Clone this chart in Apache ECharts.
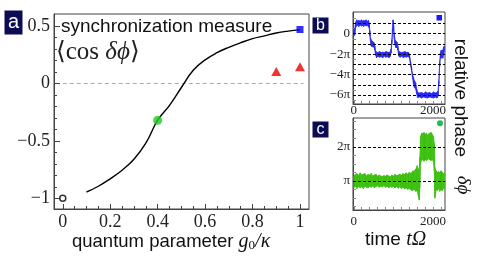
<!DOCTYPE html>
<html><head><meta charset="utf-8">
<script src="https://cdn.jsdelivr.net/npm/echarts@6/dist/echarts.min.js"></script>
<style>html,body{margin:0;padding:0;background:#fff}#chart{width:482px;height:260px}</style>
</head><body><div id="chart"></div>
<script>
// ---------- Panel a : synchronization measure vs quantum parameter ----------
const gValues    = [0.10, 0.15, 0.20, 0.25, 0.30, 0.35, 0.40, 0.45, 0.50, 0.55, 0.60, 0.65, 0.70, 0.75, 0.80, 0.85, 0.90, 0.95, 1.00];
const syncValues = [-0.945, -0.895, -0.83, -0.755, -0.66, -0.52, -0.32, -0.19, -0.035, 0.115, 0.205, 0.268, 0.315, 0.355, 0.39, 0.415, 0.44, 0.456, 0.467];
const classicalX = [0];      const classicalY = [-1];
const greenX = [0.4];        const greenY = [-0.32];
const triangleX = [0.9, 1.0]; const triangleY = [0.105, 0.145];
const squareX = [1.0];       const squareY = [0.47];
const zeroLineX = [0, 1.015]; const zeroLineY = [0, 0];
const aXLabels = [0, 0.2, 0.4, 0.6, 0.8, 1];
const aXMinor = [0.05,0.1,0.15,0.25,0.3,0.35,0.45,0.5,0.55,0.65,0.7,0.75,0.85,0.9,0.95];
const aYLabels = [0.5, 0, -0.5, -1];
const aYMinor = [0.4,0.3,0.2,0.1,-0.1,-0.2,-0.3,-0.4,-0.6,-0.7,-0.8,-0.9];

// ---------- Panel b : relative phase (units of pi), blue trajectory ----------
const timeB = [0,25,45,70,100,130,160,190,220,250,280,310,340,370,390,405,420,440,465,490,510,530,550,575,610,650,690,730,770,810,850,890,920,940,960,975,990,1005,1020,1040,1065,1090,1110,1135,1170,1210,1250,1290,1330,1370,1405,1430,1455,1480,1505,1530,1560,1585,1610,1660,1710,1760,1810,1860,1910,1960,2010,2060,2100,2125,2145,2165,2185,2205,2225,2245,2265,2285];
const lowB  = [-0.25,-0.1,0.6,0.75,0.8,0.7,0.85,0.75,0.8,0.7,0.85,0.75,0.8,0.7,0.55,-0.2,-0.7,-1.2,-1.3,-1.25,-1.35,-1.6,-2.1,-2.35,-2.2,-2.3,-2.25,-2.35,-2.2,-2.3,-2.25,-2.35,-2.2,-1.9,-1.0,0.0,0.9,0.3,-0.5,-1.1,-1.4,-1.3,-1.6,-2.2,-2.3,-2.2,-2.35,-2.25,-2.3,-2.2,-2.4,-3.1,-3.6,-4.3,-4.9,-5.3,-5.4,-5.9,-6.25,-6.2,-6.3,-6.2,-6.25,-6.3,-6.2,-6.25,-6.3,-6.2,-6.3,-6.1,-5.0,-3.2,-2.3,-2.4,-2.3,-2.4,-2.0,-1.6];
const highB = [0.15,0.5,1.1,1.35,1.25,1.3,1.2,1.35,1.25,1.3,1.25,1.35,1.2,1.3,1.0,0.3,-0.4,-0.6,-0.75,-0.8,-0.9,-1.2,-1.7,-1.8,-1.85,-1.75,-1.85,-1.8,-1.85,-1.75,-1.8,-1.85,-1.75,-1.5,-0.6,0.5,1.35,0.8,-0.1,-0.6,-0.75,-0.85,-1.2,-1.75,-1.8,-1.85,-1.8,-1.75,-1.85,-1.8,-2.0,-2.7,-3.2,-3.9,-4.3,-4.6,-4.8,-5.4,-5.75,-5.8,-5.75,-5.85,-5.7,-5.8,-5.75,-5.85,-5.7,-5.8,-5.75,-5.6,-4.6,-2.8,-1.9,-1.6,-1.7,-1.6,-1.3,-1.2];
const levelsB = [1, 0, -1, -2, -3, -4, -5, -6];
const bYLabels = [0, -2, -4, -6];
const bYTicks = [1.5,1,0.5,0,-0.5,-1,-1.5,-2,-2.5,-3,-3.5,-4,-4.5,-5,-5.5,-6,-6.5];

// ---------- Panel c : relative phase (units of pi), green trajectory ----------
const timeC = [0,40,80,120,160,200,240,280,320,360,400,440,480,520,560,600,640,680,720,760,800,840,880,920,960,1000,1040,1080,1120,1160,1200,1240,1280,1320,1360,1400,1440,1480,1520,1560,1600,1630,1650,1665,1685,1710,1740,1770,1800,1830,1860,1890,1920,1950,1980,2010,2030,2045,2060,2080,2110,2140,2170,2200,2230,2260,2290];
const lowC  = [0.8,0.85,0.78,0.84,0.8,0.83,0.78,0.84,0.82,0.8,0.85,0.82,0.86,0.8,0.84,0.86,0.82,0.85,0.83,0.86,0.82,0.85,0.8,0.84,0.82,0.85,0.8,0.84,0.79,0.83,0.78,0.82,0.77,0.8,0.76,0.78,0.74,0.72,0.76,0.7,0.72,0.55,0.45,0.8,1.55,1.6,1.62,1.58,1.63,1.6,1.62,1.65,1.62,1.6,1.63,1.55,1.3,0.5,0.6,0.75,0.72,0.78,0.7,0.76,0.72,0.78,0.75];
const highC = [1.15,1.2,1.22,1.16,1.24,1.18,1.2,1.22,1.15,1.2,1.17,1.22,1.15,1.18,1.2,1.14,1.18,1.15,1.13,1.16,1.14,1.18,1.15,1.13,1.17,1.14,1.2,1.16,1.18,1.2,1.17,1.22,1.19,1.24,1.2,1.26,1.22,1.28,1.3,1.34,1.45,1.35,1.2,1.7,2.3,2.4,2.38,2.42,2.36,2.4,2.34,2.38,2.4,2.42,2.36,2.3,2.1,1.4,1.3,1.3,1.25,1.28,1.24,1.3,1.26,1.22,1.25];
const levelsC = [2, 1];
const cYLabels = [2, 1];
const cYTicks = [0.25,0.5,0.75,1,1.25,1.5,1.75,2,2.25,2.5,2.75];
const timeLabels = [0, 2000];
const timeTicks = [0,200,400,600,800,1000,1200,1400,1600,1800,2000,2200];

const SERIF = "'Liberation Serif','DejaVu Serif',serif";
const SANS = "'Liberation Sans',Arial,sans-serif";
const FRAME = '#444';

function piLabel(v) {
  if (v === 0) return '0';
  const s = v < 0 ? '\u2212' : '';
  const a = Math.abs(v);
  return s + (a === 1 ? '' : a) + 'π';
}
function numLabel(v) { return v < 0 ? '\u2212' + (-v) : String(v); }
function plainLabel(v) { return String(v); }

function bandRenderer(ts, lo, hi, color) {
  return function (params, api) {
    const i = params.dataIndex;
    if (i >= ts.length - 1) return null;
    const a = api.coord([ts[i], lo[i]]), b = api.coord([ts[i], hi[i]]);
    const c = api.coord([ts[i + 1], hi[i + 1]]), d = api.coord([ts[i + 1], lo[i + 1]]);
    return { type: 'polygon', shape: { points: [a, b, c, d] },
      style: { fill: color, stroke: color, lineWidth: 0.7 } };
  };
}

function valueAxis(extra) {
  return Object.assign({
    type: 'value', splitLine: { show: false },
    axisLine: { show: true, onZero: false, lineStyle: { color: FRAME, width: 1 } },
  }, extra);
}
const NOLINE = { show: false, onZero: false };

const chart = echarts.init(document.getElementById('chart'), null, { renderer: 'canvas' });
chart.setOption({
  animation: false,
  backgroundColor: '#fff',
  grid: [
    { left: 54, top: 14, width: 255, height: 195, show: true, borderColor: FRAME, borderWidth: 1 },
    { left: 353, top: 12, width: 92, height: 92, show: true, borderColor: FRAME, borderWidth: 1 },
    { left: 353, top: 118, width: 92, height: 92, show: true, borderColor: FRAME, borderWidth: 1 }
  ],
  xAxis: [
    valueAxis({ gridIndex: 0, position: 'bottom', min: -0.037, max: 1.038,
      axisTick: { inside: true, length: 5, customValues: aXLabels, lineStyle: { color: FRAME } },
      axisLabel: { customValues: aXLabels, formatter: numLabel, fontFamily: SERIF, fontSize: 18, color: '#222', margin: 4 } }),
    valueAxis({ gridIndex: 0, position: 'bottom', min: -0.037, max: 1.038, axisLine: NOLINE,
      axisTick: { inside: true, length: 3, customValues: aXMinor, lineStyle: { color: FRAME } },
      axisLabel: { show: false } }),
    valueAxis({ gridIndex: 1, position: 'bottom', min: -20, max: 2300,
      axisTick: { inside: true, length: 3, customValues: timeTicks, lineStyle: { color: '#888' } },
      axisLabel: { customValues: timeLabels, formatter: plainLabel, fontFamily: SERIF, fontSize: 13, color: '#222', margin: 0 } }),
    valueAxis({ gridIndex: 2, position: 'bottom', min: -20, max: 2300,
      axisTick: { inside: true, length: 3, customValues: timeTicks, lineStyle: { color: '#888' } },
      axisLabel: { customValues: timeLabels, formatter: plainLabel, fontFamily: SERIF, fontSize: 13, color: '#222', margin: 5 } })
  ],
  yAxis: [
    valueAxis({ gridIndex: 0, position: 'left', min: -1.093, max: 0.605,
      axisTick: { inside: true, length: 6, customValues: aYLabels, lineStyle: { color: FRAME } },
      axisLabel: { customValues: aYLabels, formatter: numLabel, fontFamily: SERIF, fontSize: 18, color: '#222', margin: 4 } }),
    valueAxis({ gridIndex: 0, position: 'left', min: -1.093, max: 0.605, axisLine: NOLINE,
      axisTick: { inside: true, length: 3, customValues: aYMinor, lineStyle: { color: FRAME } },
      axisLabel: { show: false } }),
    valueAxis({ gridIndex: 1, position: 'left', min: -6.88, max: 2.12,
      axisTick: { inside: true, length: 3, customValues: bYTicks, lineStyle: { color: '#888' } },
      axisLabel: { customValues: bYLabels, formatter: piLabel, fontFamily: SERIF, fontSize: 13, color: '#222', margin: 3 } }),
    valueAxis({ gridIndex: 2, position: 'left', min: 0.155, max: 2.84,
      axisTick: { inside: true, length: 3, customValues: cYTicks, lineStyle: { color: '#888' } },
      axisLabel: { customValues: cYLabels, formatter: piLabel, fontFamily: SERIF, fontSize: 13, color: '#222', margin: 3 } })
  ],
  series: [
    { type: 'line', xAxisIndex: 0, yAxisIndex: 0, data: zeroLineX.map((x, i) => [x, zeroLineY[i]]),
      symbol: 'none', lineStyle: { color: '#aaa', width: 1, type: [4, 3] }, z: 1 },
    { type: 'line', xAxisIndex: 0, yAxisIndex: 0, data: gValues.map((x, i) => [x, syncValues[i]]),
      smooth: 0.45, symbol: 'none', lineStyle: { color: '#000', width: 1.4 }, z: 2 },
    { type: 'scatter', xAxisIndex: 0, yAxisIndex: 0, data: classicalX.map((x, i) => [x, classicalY[i]]),
      symbol: 'circle', symbolSize: 6, itemStyle: { color: '#fff', borderColor: '#000', borderWidth: 1.5 }, z: 3 },
    { type: 'scatter', xAxisIndex: 0, yAxisIndex: 0, data: greenX.map((x, i) => [x, greenY[i]]),
      symbol: 'circle', symbolSize: 9, itemStyle: { color: '#1ecb1e' }, z: 3 },
    { type: 'scatter', xAxisIndex: 0, yAxisIndex: 0, data: triangleX.map((x, i) => [x, triangleY[i]]),
      symbol: 'triangle', symbolSize: [10, 9], itemStyle: { color: '#ee0000' }, z: 3 },
    { type: 'scatter', xAxisIndex: 0, yAxisIndex: 0, data: squareX.map((x, i) => [x, squareY[i]]),
      symbol: 'rect', symbolSize: 7, itemStyle: { color: '#0000ff' }, z: 3 },
    { type: 'custom', xAxisIndex: 2, yAxisIndex: 2, clip: true,
      data: timeB.map((t, i) => [t, lowB[i], highB[i]]), encode: { x: 0, y: [1, 2] },
      renderItem: bandRenderer(timeB, lowB, highB, '#2626f2'), z: 2,
      markLine: { silent: true, symbol: 'none', label: { show: false }, animation: false,
        lineStyle: { color: '#000', width: 1.2, type: [3, 2] }, data: levelsB.map(v => ({ yAxis: v })) } },
    { type: 'custom', xAxisIndex: 3, yAxisIndex: 3, clip: true,
      data: timeC.map((t, i) => [t, lowC[i], highC[i]]), encode: { x: 0, y: [1, 2] },
      renderItem: bandRenderer(timeC, lowC, highC, '#3cc010'), z: 2,
      markLine: { silent: true, symbol: 'none', label: { show: false }, animation: false,
        lineStyle: { color: '#000', width: 1.2, type: [3, 2] }, data: levelsC.map(v => ({ yAxis: v })) } }
  ],
  graphic: [
    { type: 'rect', shape: { x: 4.5, y: 10.5, width: 18, height: 24 }, style: { fill: '#0c0c55' } },
    { type: 'text', x: 13.5, y: 22, style: { text: 'a', fill: '#fff', font: '20px ' + SANS, textAlign: 'center', textVerticalAlign: 'middle' } },
    { type: 'rect', shape: { x: 312.5, y: 17.5, width: 16, height: 16 }, style: { fill: '#0c0c55' } },
    { type: 'text', x: 320.5, y: 25.5, style: { text: 'b', fill: '#fff', font: '16px ' + SANS, textAlign: 'center', textVerticalAlign: 'middle' } },
    { type: 'rect', shape: { x: 312.5, y: 121.5, width: 16, height: 16 }, style: { fill: '#0c0c55' } },
    { type: 'text', x: 320.5, y: 129.5, style: { text: 'c', fill: '#fff', font: '16px ' + SANS, textAlign: 'center', textVerticalAlign: 'middle' } },
    { type: 'text', x: 61, y: 27, style: { text: 'synchronization measure', fill: '#111', font: '19px ' + SANS, textVerticalAlign: 'middle' } },
    { type: 'text', x: 56, y: 52, style: { text: '{b|⟨}{t|cos }{i|δϕ}{b|⟩}', textVerticalAlign: 'middle',
        rich: { b: { fontFamily: "'DejaVu Serif',serif", fontSize: 25, fill: '#222' },
                t: { fontFamily: SERIF, fontSize: 25, fill: '#222' },
                i: { fontFamily: SERIF, fontStyle: 'italic', fontSize: 25, fill: '#222' } } } },
    { type: 'text', x: 72, y: 242, style: { text: '{s|quantum parameter }{m|g}{sub|0}{m|/κ}', textVerticalAlign: 'middle',
        rich: { s: { fontFamily: SANS, fontSize: 18.5, fill: '#111' },
                m: { fontFamily: SERIF, fontStyle: 'italic', fontSize: 20, fill: '#111' },
                sub: { fontFamily: SERIF, fontSize: 13, fill: '#111', padding: [8, 0, 0, 0] } } } },
    { type: 'text', x: 365, y: 240, style: { text: '{s|time }{m|tΩ}', textVerticalAlign: 'middle',
        rich: { s: { fontFamily: SANS, fontSize: 19, fill: '#111' },
                m: { fontFamily: SERIF, fontStyle: 'italic', fontSize: 20, fill: '#111' } } } },
    { type: 'text', x: 460, y: 98, rotation: -Math.PI / 2,
      style: { text: 'relative phase', fill: '#111', font: '19px ' + SANS, textAlign: 'center', textVerticalAlign: 'middle' } },
    { type: 'text', x: 463, y: 185, rotation: -Math.PI / 2,
      style: { text: 'δϕ', fill: '#111', font: 'italic 19px ' + SERIF, textAlign: 'center', textVerticalAlign: 'middle' } },
    { type: 'rect', shape: { x: 436.5, y: 15, width: 5.5, height: 5.5 }, style: { fill: '#1a1aff' } },
    { type: 'circle', shape: { cx: 440, cy: 123.3, r: 3 }, style: { fill: '#1fbf4f' } }
  ]
});
</script></body></html>
